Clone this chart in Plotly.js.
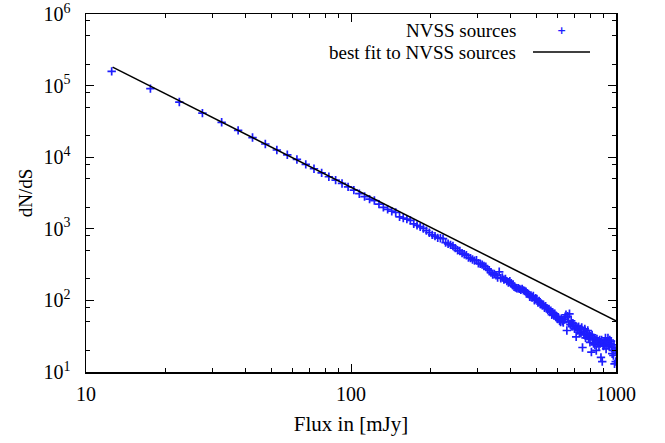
<!DOCTYPE html>
<html>
<head>
<meta charset="utf-8">
<script src="https://cdn.plot.ly/plotly-3.0.1.min.js"></script>
<style>html,body{margin:0;padding:0;background:#fff;}#chart{width:665px;height:443px;}</style>
</head>
<body>
<div id="chart"></div>
<script>
// Flux bin centres [mJy]
const flux = [12.5,17.5,22.5,27.5,32.5,37.5,42.5,47.5,52.5,57.5,62.5,67.5,72.5,77.5,82.5,87.5,92.5,97.5,
102.5,107.5,112.5,117.5,122.5,127.5,132.5,137.5,142.5,147.5,152.5,157.5,162.5,167.5,172.5,177.5,182.5,187.5,192.5,197.5,
202.5,207.5,212.5,217.5,222.5,227.5,232.5,237.5,242.5,247.5,252.5,257.5,262.5,267.5,272.5,277.5,282.5,287.5,292.5,297.5,
302.5,307.5,312.5,317.5,322.5,327.5,332.5,337.5,342.5,347.5,352.5,357.5,362.5,367.5,372.5,377.5,382.5,387.5,392.5,397.5,
402.5,407.5,412.5,417.5,422.5,427.5,432.5,437.5,442.5,447.5,452.5,457.5,462.5,467.5,472.5,477.5,482.5,487.5,492.5,497.5,
502.5,507.5,512.5,517.5,522.5,527.5,532.5,537.5,542.5,547.5,552.5,557.5,562.5,567.5,572.5,577.5,582.5,587.5,592.5,597.5,
602.5,607.5,612.5,617.5,622.5,627.5,632.5,637.5,642.5,647.5,652.5,657.5,662.5,667.5,672.5,677.5,682.5,687.5,692.5,697.5,
702.5,707.5,712.5,717.5,722.5,727.5,732.5,737.5,742.5,747.5,752.5,757.5,762.5,767.5,772.5,777.5,782.5,787.5,792.5,797.5,
802.5,807.5,812.5,817.5,822.5,827.5,832.5,837.5,842.5,847.5,852.5,857.5,862.5,867.5,872.5,877.5,882.5,887.5,892.5,897.5,
902.5,907.5,912.5,917.5,922.5,927.5,932.5,937.5,942.5,947.5,952.5,957.5,962.5,967.5,972.5,977.5,982.5,987.5,992.5,997.5];

// dN/dS of NVSS sources
const dnds = [158000,90600,58900,41300,30700,23700,18800,15300,12600,10800,9300,7950,6900,6050,5330,4790,4300,3850,
3470,3090,2820,2600,2480,2210,1990,1870,1760,1690,1470,1410,1365,1310,1175,1117,1064,1012,944,881,
822,789,746,738,728,643,617,596,575,537,501,490,457,442,427,398,389,372,359,363,
331,324,316,302,295,275,263,245,229,234,224,209,251,204,209,195,200,186,178,186,
174,162,155,151,148,148,145,141,145,138,135,132,126,123,112,117,110,115,100,107,
105,93,98,89,91,85,87,79,83,78,74,76,69,72,63,68,62,65,59,60,
55,57,52,50,56,51,49,54,59,63,38,60,50,65,46,52,43,48,45,40,
44,31,42,38,43,36,40,35,42,22,37,33,40,30,35,32,38,29,34,26,
32,19,33,28,25,30,24,28,20,29,25,27,23,28,25,16,28,14,25,23,
26,24,30,21,27,25,30,26,23,28,25,27,22,18,20,17,24,13,20,14];

// best fit power law (end points)
const fitFlux = [12.6, 1000];
const fitDnds = [181000, 52];

const xTickVals = [10, 100, 1000];
const xTickText = ['10', '100', '1000'];
const yTickVals = [10, 100, 1000, 10000, 100000, 1000000];
const yTickText = ['10<sup>1</sup>', '10<sup>2</sup>', '10<sup>3</sup>', '10<sup>4</sup>', '10<sup>5</sup>', '10<sup>6</sup>'];
const xMinor = [20,30,40,50,60,70,80,90,200,300,400,500,600,700,800,900];
const yMinor = [20,50,80,200,500,800,2000,5000,8000,20000,50000,80000,200000,500000,800000];

const seriesNames = ['NVSS sources', 'best fit to NVSS sources'];

const FONT = 'Liberation Serif, Times New Roman, serif';
const BLUE = '#1e1eff';

const traces = [
  {
    x: flux, y: dnds, type: 'scatter', mode: 'markers', name: seriesNames[0],
    marker: {symbol: 'cross-thin-open', size: 6, color: BLUE, line: {color: BLUE, width: 1.7}},
    showlegend: false, cliponaxis: true
  },
  {
    x: fitFlux, y: fitDnds, type: 'scatter', mode: 'lines', name: seriesNames[1],
    line: {color: '#000', width: 1.5}, showlegend: false
  }
];

const L = 86, R = 616, T = 14, B = 372;
function px(xp){ return (xp - L) / (R - L); }
function py(yp){ return (B - yp) / (B - T); }

const layout = {
  width: 665, height: 443,
  margin: {l: L, r: 665 - R, t: T, b: 443 - B, pad: 0},
  paper_bgcolor: '#fff', plot_bgcolor: '#fff',
  font: {family: FONT, size: 20, color: '#000'},
  showlegend: false,
  xaxis: {
    type: 'log', range: [1, 3], tickmode: 'array', tickvals: xTickVals, ticktext: xTickText,
    ticks: 'inside', ticklen: 8, tickwidth: 1, tickcolor: '#000',
    showline: true, linecolor: '#000', linewidth: 1.5, mirror: 'ticks',
    showgrid: false, zeroline: false, ticklabelstandoff: 3,
    minor: {tickmode: 'array', tickvals: xMinor, ticks: 'inside', ticklen: 4, tickwidth: 1, tickcolor: '#000', showgrid: false},
    title: {text: 'Flux in [mJy]', font: {size: 21}, standoff: 13},
    tickfont: {size: 20}
  },
  yaxis: {
    type: 'log', range: [1, 6], tickmode: 'array', tickvals: yTickVals, ticktext: yTickText,
    ticks: 'inside', ticklen: 8, tickwidth: 1, tickcolor: '#000',
    showline: true, linecolor: '#000', linewidth: 1.5, mirror: 'ticks',
    showgrid: false, zeroline: false, ticklabelstandoff: 10,
    minor: {tickmode: 'array', tickvals: yMinor, ticks: 'inside', ticklen: 4, tickwidth: 1, tickcolor: '#000', showgrid: false},
    title: {text: 'dN/dS', font: {size: 19}, standoff: 6},
    tickfont: {size: 20}
  },
  annotations: [
    {xref: 'paper', yref: 'paper', x: px(518), y: py(31), xanchor: 'right', yanchor: 'middle', text: seriesNames[0], showarrow: false, font: {size: 19}},
    {xref: 'paper', yref: 'paper', x: px(518), y: py(52), xanchor: 'right', yanchor: 'middle', text: seriesNames[1], showarrow: false, font: {size: 19}},
    {xref: 'paper', yref: 'paper', x: px(561), y: py(31), xanchor: 'center', yanchor: 'middle', text: '<b>+</b>', showarrow: false, font: {size: 11, color: BLUE, family: 'DejaVu Sans'}}
  ],
  shapes: [
    {type: 'line', xref: 'paper', yref: 'paper', x0: px(533), x1: px(590), y0: py(52), y1: py(52), line: {color: '#000', width: 1.5}}
  ]
};

Plotly.newPlot('chart', traces, layout, {staticPlot: true, displayModeBar: false});
</script>
</body>
</html>
